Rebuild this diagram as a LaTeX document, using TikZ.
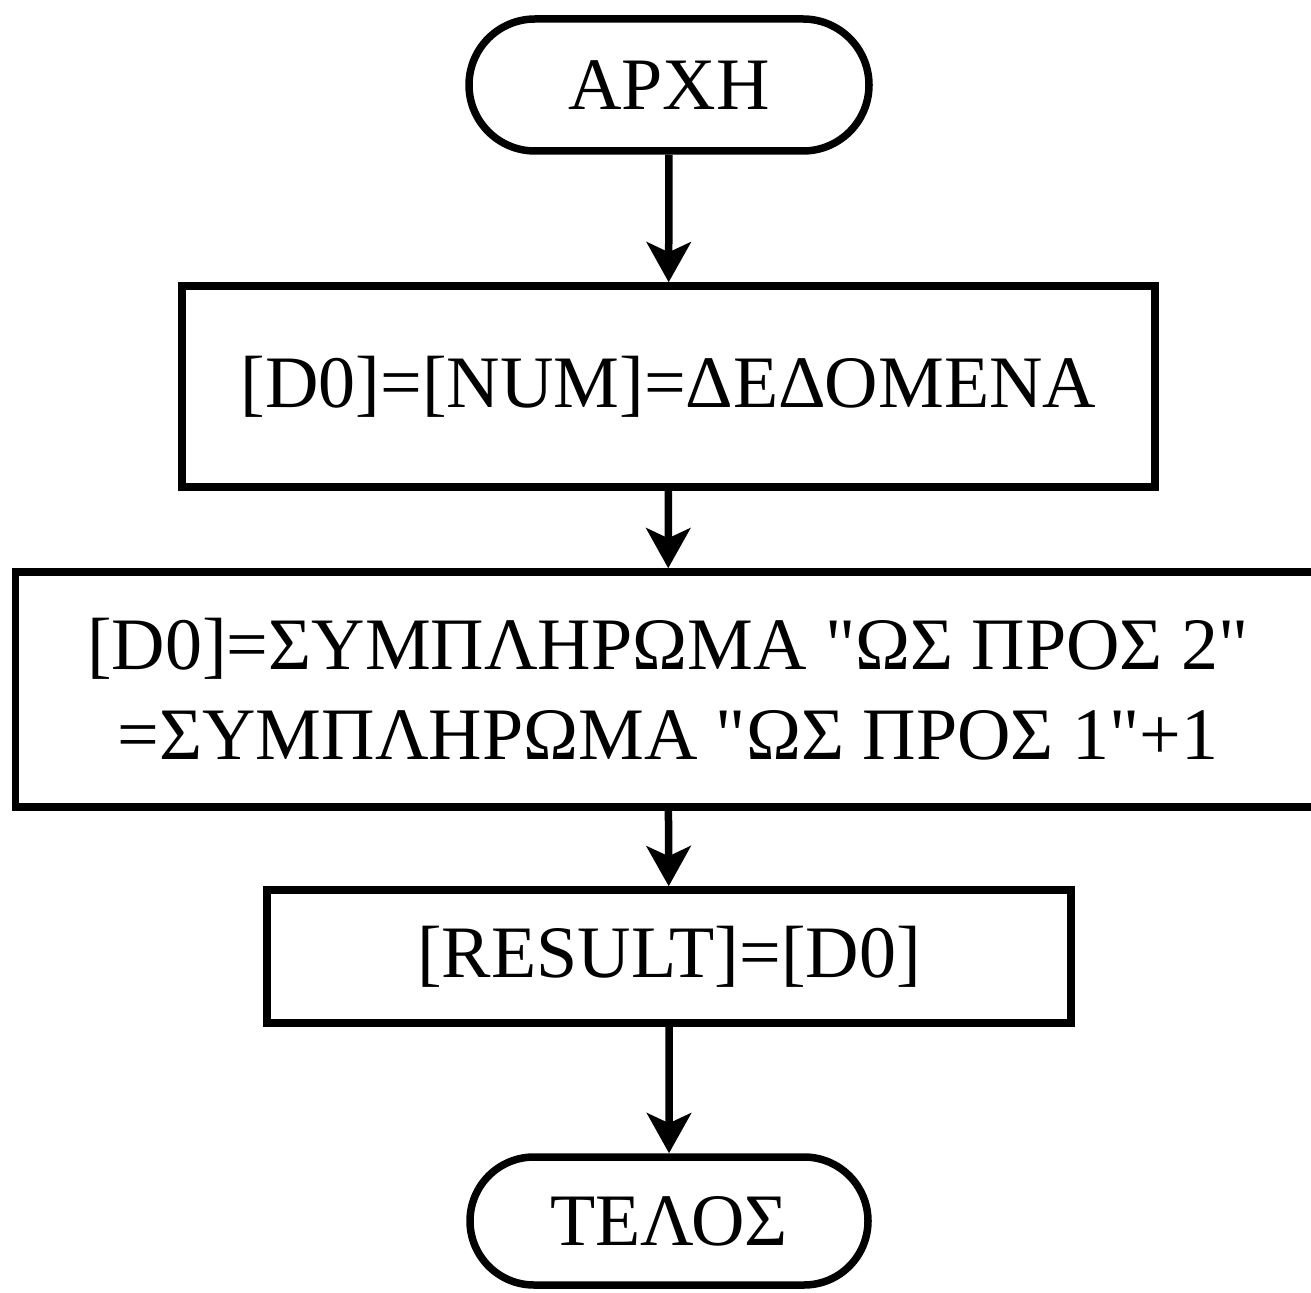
\documentclass[tikz,border=0pt]{standalone}
\usepackage{fontspec}
\setmainfont{Liberation Serif}[Ligatures=TeXOff]
\usetikzlibrary{arrows.meta,shapes.misc}
\begin{document}
\begin{tikzpicture}[x=.5pt, y=-.5pt, line width=3.75pt,
	every node/.style={font=\fontsize{37}{45}\selectfont, inner sep=0},
	term/.style={draw, rounded rectangle, minimum width=200pt, minimum height=66pt},
	proc/.style={draw, rectangle, align=center},
	flow/.style={-{Stealth[length=20pt, width=22pt, inset=5pt]}}]
	\useasboundingbox (0,0) rectangle (1311,1293);
	\node[term] (start) at (669,85) {ΑΡΧΗ};
	\node[proc, minimum width=486.5pt, minimum height=100.5pt] (data) at (668.5,386.5) {[D0]=[NUM]=ΔΕΔΟΜΕΝΑ};
	\node[proc, minimum width=652.5pt, minimum height=117.5pt] (compl) at (668,689.5) {[D0]=ΣΥΜΠΛΗΡΩΜΑ "ΩΣ ΠΡΟΣ 2"\\=ΣΥΜΠΛΗΡΩΜΑ "ΩΣ ΠΡΟΣ 1"+1};
	\node[proc, minimum width=402pt, minimum height=66.5pt] (res) at (669,956.5) {[RESULT]=[D0]};
	\node[term, minimum width=199pt, minimum height=64pt] (end) at (669,1221) {ΤΕΛΟΣ};
	\draw[flow] (start) -- (data);
	\draw[flow] (data) -- (compl);
	\draw[flow] (compl) -- (res);
	\draw[flow] (res) -- (end);
\end{tikzpicture}
\end{document}
